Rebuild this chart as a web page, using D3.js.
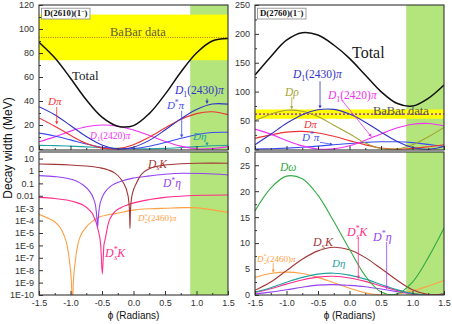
<!DOCTYPE html>
<html>
<head>
<meta charset="utf-8">
<script src="https://cdn.jsdelivr.net/npm/d3@7"></script>
<style>
  body { margin: 0; background: #fff; }
  svg { display: block; }
</style>
</head>
<body>
<svg id="chart" width="452" height="324"></svg>
<script>
//// DATA

// shared phi grid (radians) for the linear panels
const phiGrid = [-1.5, -1.25, -1, -0.75, -0.5, -0.25, 0, 0.25, 0.5, 0.75, 1, 1.25, 1.5];
const phiTicks = [-1.5, -1, -0.5, 0, 0.5, 1, 1.5];
const phiMinor = [-1.25, -0.75, -0.25, 0.25, 0.75, 1.25];
const greenBand = [0.9, 1.5];

// D(2610)(1-) top panel, MeV
const tlTotal   = [89, 76, 59, 41, 26.5, 19, 19.5, 29.5, 45.5, 64, 80, 90, 92];
const tlDpi     = [25.9, 19, 11.4, 4.7, 0.7, 0.3, 3.6, 9.9, 17.5, 24.6, 29.5, 31, 28.6];
const tlD12430  = [35.3, 28.6, 19.6, 10.4, 3.3, 0.1, 1.5, 7.2, 15.8, 25.1, 33, 37.5, 37.4];
const tlDstarPi = [13.2, 10.9, 7.6, 4.2, 1.5, 0.1, 0.4, 2.3, 5.4, 8.9, 11.9, 13.7, 13.9];
const tlD12420  = [6, 10.1, 14.9, 18.5, 20, 19, 15.9, 11.3, 6.4, 2.4, 0.2, 0.4, 2];
const tlDeta    = [3.0, 2.8, 2.4, 1.8, 1.1, 0.5, 0.15, 0.1, 0.5, 1.2, 2.0, 2.7, 3.1];
const tlBabar   = { center: 93, low: 74, high: 112 };

// D(2610)(1-) bottom panel (log), [phi, MeV]
const blDsK = [[-1.5, 3.7], [-1.25, 3.4], [-1, 3.0], [-0.75, 2.5], [-0.53, 1.8], [-0.4, 1.2], [-0.3, 0.7],
  [-0.21, 0.26], [-0.15, 0.088], [-0.1, 0.019], [-0.075, 0.0036], [-0.062, 3.6e-4], [-0.056, 2.3e-5],
  [-0.05, 3.6e-4], [-0.037, 0.0036], [-0.012, 0.019], [0.04, 0.088], [0.1, 0.35], [0.26, 1.6],
  [0.5, 3.0], [0.75, 3.8], [1, 4.2], [1.25, 4.3], [1.5, 4.2]];
const blDstarEta = [[-1.5, 0.42], [-1.25, 0.35], [-1.06, 0.26], [-0.9, 0.15], [-0.8, 0.074], [-0.7, 0.024],
  [-0.64, 0.0069], [-0.6, 0.0013], [-0.58, 1.4e-4], [-0.57, 3e-5], [-0.56, 1.4e-4], [-0.54, 0.0013],
  [-0.5, 0.0069], [-0.44, 0.024], [-0.37, 0.054], [-0.16, 0.17], [0, 0.27], [0.26, 0.4], [0.5, 0.55],
  [0.79, 0.65], [1.1, 0.62], [1.5, 0.48]];
const blDsStarK = [[-1.5, 0.0074], [-1.25, 0.006], [-1.06, 0.0045], [-0.9, 0.0028], [-0.8, 0.0018],
  [-0.7, 7e-4], [-0.64, 2.8e-4], [-0.56, 1.7e-5], [-0.52, 1e-6], [-0.495, 5e-9], [-0.47, 1e-6],
  [-0.45, 3e-6], [-0.4, 5.9e-5], [-0.32, 3.8e-4], [-0.2, 1.1e-3], [-0.1, 1.8e-3], [0.26, 5e-3],
  [0.5, 7.5e-3], [0.79, 9.5e-3], [1.1, 0.011], [1.5, 0.0115]];
const blD2Pi = [[-1.5, 3.2e-4], [-1.35, 1.5e-4], [-1.25, 8e-5], [-1.17, 3e-5], [-1.1, 6e-6], [-1.06, 1.4e-6],
  [-1.01, 3e-8], [-0.985, 1e-9], [-0.97, 1e-11], [-0.955, 1e-9], [-0.93, 3e-8], [-0.88, 1.4e-6],
  [-0.84, 6e-6], [-0.75, 3e-5], [-0.65, 9e-5], [-0.53, 2e-4], [-0.27, 3.8e-4], [0, 7e-4], [0.26, 9e-4],
  [0.53, 1e-3], [0.8, 1.1e-3], [0.95, 1.1e-3], [1.2, 8e-4], [1.5, 4.6e-4]];
const logTicks = [1e-10, 1e-9, 1e-8, 1e-7, 1e-6, 1e-5, 1e-4, 1e-3, 0.01, 0.1, 1, 10];

// D(2760)(1-) top panel, MeV
const trTotal   = [128.7, 160.5, 189, 202, 198, 180.7, 157.6, 128.7, 100, 79.7, 75, 88.3, 111.4];
const trDrho    = [50, 60.9, 67.6, 66, 56.7, 41.8, 27, 11, 1.5, 0.7, 8, 21.7, 38];
const trD12430  = [8, 26, 45, 60, 68.6, 69.2, 61, 47, 29.8, 13.9, 3.1, 0.1, 5];
const trDpi     = [19, 25, 29.8, 31, 28.3, 22.6, 15, 7.7, 2.2, 0.1, 1.6, 4.5, 8];
const trD12420  = [35, 26.3, 15.2, 5.9, 0.6, 0.8, 6.2, 15.6, 26.7, 36.8, 43.4, 44.8, 40.8];
const trDstarPi = [0.5, 1, 2, 3.5, 5.5, 7.8, 10, 12, 13, 13, 11.5, 8.5, 5];
const trBabar   = { center: 61, low: 53, high: 69 };

// D(2760)(1-) bottom panel, MeV
const brDomega   = [16.2, 20.6, 22.9, 22.4, 19.2, 14.2, 8.8, 3.7, 0.6, 0.2, 2.5, 7.2, 12.9];
const brDsK      = [0.9, 2.5, 4.7, 6.9, 8.5, 9.2, 8.7, 7.2, 5.1, 2.9, 1.0, 0.1, 0.2];
const brDeta     = [0.55, 1.4, 2.46, 3.4, 4.03, 4.2, 3.83, 3.06, 2.04, 1.04, 0.3, 0.01, 0.2];
const brDsStarK  = [0.47, 1.22, 2.1, 2.9, 3.45, 3.6, 3.29, 2.62, 1.75, 0.89, 0.26, 0.01, 0.18];
const brDstarEta = [0.2, 0.55, 1.0, 1.5, 1.9, 2.0, 1.85, 1.6, 1.15, 0.65, 0.2, 0.02, 0.1];
const brD2Pi     = [3.4, 4.13, 4.4, 4.13, 3.4, 2.36, 1.29, 0.44, 0.02, 0.14, 0.76, 1.73, 2.8];

const col = {
  total: "#111", dpi: "#f03232", d12430: "#3232c8", dstarpi: "#3c4cf0", d12420: "#f032f0",
  deta: "#22a2a2", drho: "#a4a432", dsk: "#a23636", dstareta: "#9442f2", dsstark: "#ff2c8c",
  d2pi: "#ffa044", domega: "#32aa42", green: "#b4e47c", yellow: "#ffff00"
};

//// SCALES
const svg = d3.select("#chart");
const xLeft  = d3.scaleLinear().domain([-1.5, 1.5]).range([39, 228]);
const xRight = d3.scaleLinear().domain([-1.5, 1.5]).range([255, 444]);
const yTL = d3.scaleLinear().domain([-0.83, 120]).range([150, 5]);
const yBL = d3.scaleLog().domain([1e-10, 33.9]).range([295, 152]);
const yTR = d3.scaleLinear().domain([-1.2, 250]).range([150, 5]);
const yBR = d3.scaleLinear().domain([0, 27.55]).range([295, 152]);

const zip = vals => phiGrid.map((p, i) => [p, vals[i]]);
const serif = "'Liberation Serif','DejaVu Serif',serif";
const sans = "'Liberation Sans',Arial,sans-serif";

//// FUNCTIONS
function panel(id, x, y) {
  const [x0, x1] = x.range();
  const [yb, yt] = y.range();
  svg.append("clipPath").attr("id", "clip-" + id)
    .append("rect").attr("x", x0).attr("y", yt).attr("width", x1 - x0).attr("height", yb - yt);
  const g = svg.append("g");
  const plot = g.append("g").attr("clip-path", `url(#clip-${id})`);
  plot.append("rect")
    .attr("x", x(greenBand[0])).attr("y", yt)
    .attr("width", x(greenBand[1]) - x(greenBand[0])).attr("height", yb - yt)
    .attr("fill", col.green);
  return { g, plot, x, y };
}

function babar(p, band, dotColor, dotWidth, dash) {
  const [x0, x1] = p.x.range();
  p.plot.append("rect")
    .attr("x", x0).attr("width", x1 - x0)
    .attr("y", p.y(band.high)).attr("height", p.y(band.low) - p.y(band.high))
    .attr("fill", col.yellow);
  p.plot.append("line")
    .attr("x1", x0).attr("x2", x1)
    .attr("y1", p.y(band.center)).attr("y2", p.y(band.center))
    .attr("stroke", dotColor).attr("stroke-width", dotWidth).attr("stroke-dasharray", dash);
}

function curve(p, data, color, width, isLog) {
  const line = d3.line()
    .x(d => p.x(d[0]))
    .y(d => p.y(d[1]))
    .curve(isLog ? d3.curveMonotoneX : d3.curveCatmullRom.alpha(0.5));
  p.plot.append("path")
    .attr("d", line(data))
    .attr("fill", "none")
    .attr("stroke", color)
    .attr("stroke-width", width || 1.1);
}

function axes(p, yTicks, yMinor, yFmt, showX) {
  const [x0, x1] = p.x.range();
  const [yb, yt] = p.y.range();
  const style = s => s.attr("font-size", 9).attr("font-family", sans).attr("color", "#333")
    .call(t => t.select(".domain").remove());
  p.g.append("g").attr("transform", `translate(${x0},0)`)
    .call(d3.axisLeft(p.y).tickValues(yTicks).tickSize(-4).tickSizeOuter(0).tickPadding(5).tickFormat(yFmt))
    .call(style);
  if (yMinor.length) {
    p.g.append("g").attr("transform", `translate(${x0},0)`)
      .call(d3.axisLeft(p.y).tickValues(yMinor).tickSize(-2).tickSizeOuter(0).tickFormat(""))
      .call(style);
  }
  p.g.append("g").attr("transform", `translate(0,${yb})`)
    .call(d3.axisBottom(p.x).tickValues(phiTicks).tickSize(-4).tickSizeOuter(0).tickPadding(4.5)
      .tickFormat(showX ? (d => d.toFixed(1)) : ""))
    .call(style);
  p.g.append("g").attr("transform", `translate(0,${yb})`)
    .call(d3.axisBottom(p.x).tickValues(phiMinor).tickSize(-2).tickSizeOuter(0).tickFormat(""))
    .call(style);
  p.g.append("rect")
    .attr("x", x0).attr("y", yt).attr("width", x1 - x0).attr("height", yb - yt)
    .attr("fill", "none").attr("stroke", "#333").attr("stroke-width", 1.1);
}

// parts: plain string = italic, ["up", s] upright, ["sub", s], ["sup", s], ["subback", s] (sub under previous sup)
function label(p, phi, v, parts, color, size) {
  const t = p.g.append("text")
    .attr("x", p.x(phi)).attr("y", p.y(v))
    .attr("fill", color).attr("font-size", size).attr("font-family", serif);
  let cur = 0;
  parts.forEach(part => {
    let txt = part, kind = "it";
    if (typeof part !== "string") { kind = part[0]; txt = part[1]; }
    let shift = 0, fs = size, style = "italic", dx = 0;
    if (kind === "up") style = "normal";
    if (kind === "sub") { shift = size * 0.25; fs = size * 0.68; style = "normal"; }
    if (kind === "sup") { shift = -size * 0.38; fs = size * 0.68; style = "normal"; }
    if (kind === "subback") { shift = size * 0.25; fs = size * 0.68; dx = -size * 0.3; }
    const s = t.append("tspan").text(txt).attr("font-size", fs).attr("font-style", style);
    if (shift !== cur) { s.attr("dy", shift - cur); cur = shift; }
    if (dx) s.attr("dx", dx);
  });
  return t;
}

function arrow(p, from, to, color) {
  const x1 = p.x(from[0]), y1 = p.y(from[1]), x2 = p.x(to[0]), y2 = p.y(to[1]);
  const a = Math.atan2(y2 - y1, x2 - x1), L = 3.2, w = 1.6;
  p.g.append("line").attr("x1", x1).attr("y1", y1).attr("x2", x2 - L * 0.6 * Math.cos(a)).attr("y2", y2 - L * 0.6 * Math.sin(a))
    .attr("stroke", color).attr("stroke-width", 0.8);
  const bx = x2 - L * Math.cos(a), by = y2 - L * Math.sin(a);
  p.g.append("path")
    .attr("d", `M${x2},${y2}L${bx - w * Math.sin(a)},${by + w * Math.cos(a)}L${bx + w * Math.sin(a)},${by - w * Math.cos(a)}Z`)
    .attr("fill", color);
}

function titleBox(p, name) {
  const [x0] = p.x.range();
  const [, yt] = p.y.range();
  const box = p.g.append("rect");
  const t = p.g.append("text").attr("x", x0 + 5).attr("y", yt + 11.2)
    .attr("font-family", serif).attr("font-weight", "bold").attr("font-size", 8.8).attr("fill", "#111");
  t.append("tspan").text(name + "(1");
  t.append("tspan").text("\u2212").attr("font-size", 6).attr("dy", -3.5);
  t.append("tspan").text(")").attr("dy", 3.5);
  const w = t.node().getComputedTextLength();
  box.attr("x", x0 + 2.5).attr("y", yt + 3.2).attr("width", w + 5).attr("height", 10.8)
    .attr("fill", "#fff").attr("stroke", "#888").attr("stroke-width", 0.8);
}

//// TOP LEFT: D(2610)
const tl = panel("tl", xLeft, yTL);
babar(tl, tlBabar, "#a05a2c", 0.9, "1,1.3");
curve(tl, zip(tlDeta), col.deta);
curve(tl, zip(tlD12420), col.d12420);
curve(tl, zip(tlDstarPi), col.dstarpi);
curve(tl, zip(tlDpi), col.dpi);
curve(tl, zip(tlD12430), col.d12430);
curve(tl, zip(tlTotal), col.total, 1.5);
axes(tl, d3.range(0, 121, 20), d3.range(10, 120, 20), d3.format("d"), false);
titleBox(tl, "D(2610)");
label(tl, -0.373, 93.9, [["up", "BaBar data"]], "#6a5a3a", 12.5);
label(tl, -0.976, 57.9, [["up", "Total"]], "#1a1a1a", 13);
label(tl, -1.357, 36.7, ["D\u03c0"], col.dpi, 11);
label(tl, 0.659, 45.5, ["D", ["sub", "1"], ["up", "(2430)"], "\u03c0"], col.d12430, 11.5);
label(tl, 0.53, 33.3, ["D", ["sup", "*"], "\u03c0"], col.dstarpi, 11);
label(tl, 0.944, 7.5, ["D\u03b7"], col.deta, 11);
label(tl, -0.69, 8.3, ["D", ["sub", "1"], ["up", "(2420)"], "\u03c0"], col.d12420, 9.5);
arrow(tl, [-1.219, 35], [-1.219, 20.5], col.dpi);
arrow(tl, [1.167, 42], [1.167, 37.6], col.d12430);
arrow(tl, [0.765, 31.8], [0.765, 9.4], col.dstarpi);
arrow(tl, [1.167, 5.8], [1.167, 2.6], col.deta);

//// BOTTOM LEFT: D(2610) log scale
const bl = panel("bl", xLeft, yBL);
curve(bl, blD2Pi, col.d2pi, 1.1, true);
curve(bl, blDsStarK, col.dsstark, 1.1, true);
curve(bl, blDstarEta, col.dstareta, 1.1, true);
curve(bl, blDsK, col.dsk, 1.1, true);
axes(bl, logTicks, [], v => v >= 0.01 ? String(v) : "1E-" + Math.round(-Math.log10(v)), true);
label(bl, 0.23, 1.9, ["D", ["sub", "s"], "K"], col.dsk, 11.5);
label(bl, 0.468, 0.051, ["D", ["sup", "*"], "\u03b7"], col.dstareta, 11.5);
label(bl, 0.071, 9.3e-5, ["D", ["sup", "*"], ["subback", "2"], ["up", "(2460)"], "\u03c0"], col.d2pi, 9);
label(bl, -0.452, 1.15e-7, ["D", ["sup", "*"], ["subback", "s"], "K"], col.dsstark, 12);

//// TOP RIGHT: D(2760)
const tr = panel("tr", xRight, yTR);
babar(tr, trBabar, "#b04cb8", 1.8, "2,2");
curve(tr, zip(trDstarPi), col.dstarpi);
curve(tr, zip(trDpi), col.dpi);
curve(tr, zip(trD12420), col.d12420);
curve(tr, zip(trDrho), col.drho);
curve(tr, zip(trD12430), col.d12430);
curve(tr, zip(trTotal), col.total, 1.5);
axes(tr, d3.range(0, 251, 50), d3.range(25, 250, 50), d3.format("d"), false);
titleBox(tr, "D(2760)");
label(tr, 0.373, 59.6, [["up", "BaBar data"]], "#555", 12.5);
label(tr, 0.04, 159, [["up", "Total"]], "#1a1a1a", 16);
label(tr, -0.897, 123.5, ["D", ["sub", "1"], ["up", "(2430)"], "\u03c0"], col.d12430, 11.5);
label(tr, -1.024, 92.3, ["D\u03c1"], col.drho, 11.5);
label(tr, -0.341, 87, ["D", ["sub", "1"], ["up", "(2420)"], "\u03c0"], col.d12420, 11.5);
label(tr, -0.722, 36.2, ["D\u03c0"], col.dpi, 10.5);
label(tr, -0.754, 14.2, ["D", ["sup", "*"], "\u03c0"], col.dstarpi, 11);
arrow(tr, [-0.468, 118], [-0.468, 70.5], col.d12430);
arrow(tr, [-0.917, 90], [-0.917, 69], col.drho);
arrow(tr, [-0.124, 85.4], [0.352, 21.3], col.d12420);
arrow(tr, [-0.468, 12.2], [-0.262, 8.2], col.dstarpi);

//// BOTTOM RIGHT: D(2760)
const br = panel("br", xRight, yBR);
curve(br, zip(brD2Pi), col.d2pi);
curve(br, zip(brDstarEta), col.dstareta);
curve(br, zip(brDsStarK), col.dsstark);
curve(br, zip(brDeta), col.deta);
curve(br, zip(brDsK), col.dsk);
curve(br, zip(brDomega), col.domega);
axes(br, d3.range(0, 26, 5), d3.range(2.5, 27, 5), d3.format("d"), true);
label(br, -1.103, 23.8, ["D\u03c9"], col.domega, 11.5);
label(br, -0.579, 9.35, ["D", ["sub", "s"], "K"], col.dsk, 12);
label(br, -0.04, 11.37, ["D", ["sup", "*"], ["subback", "s"], "K"], col.dsstark, 12);
label(br, 0.373, 10.4, ["D", ["sup", "*"], "\u03b7"], col.dstareta, 12);
label(br, -0.278, 5.4, ["D\u03b7"], col.deta, 11);
label(br, -1.468, 6.45, ["D", ["sup", "*"], ["subback", "2"], ["up", "(2460)"], "\u03c0"], col.d2pi, 9);
arrow(br, [0.14, 11.0], [0.14, 3.1], col.dsstark);
arrow(br, [0.59, 10.2], [0.59, 1.1], col.dstareta);
arrow(br, [-1.21, 6.2], [-1.21, 4.3], col.d2pi);

//// AXIS TITLES
svg.append("text")
  .attr("transform", "translate(11.5,148) rotate(-90)")
  .attr("text-anchor", "middle").attr("font-family", sans).attr("font-size", 12).attr("fill", "#111")
  .text("Decay width (MeV)");
[xLeft, xRight].forEach(x => {
  svg.append("text")
    .attr("x", x(0)).attr("y", 319)
    .attr("text-anchor", "middle").attr("font-family", sans).attr("font-size", 10).attr("fill", "#111")
    .text("\u03d5 (Radians)");
});
</script>
</body>
</html>
